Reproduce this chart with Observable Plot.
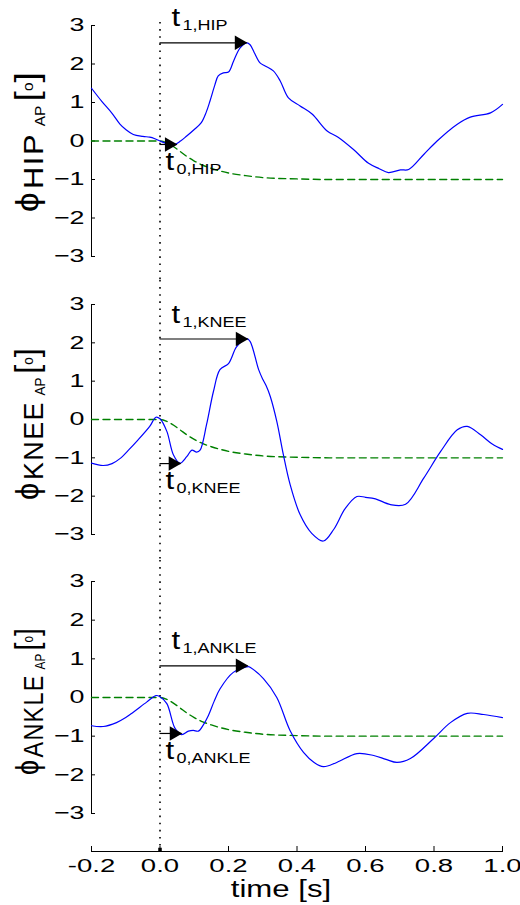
<!DOCTYPE html>
<html><head><meta charset="utf-8">
<script src="https://cdn.jsdelivr.net/npm/d3@7"></script>
<script src="https://cdn.jsdelivr.net/npm/@observablehq/plot@0.6"></script>
<style>
body{margin:0;background:#fff;width:520px;height:905px;overflow:hidden}
#chart svg{display:block}
</style></head><body><div id="chart"></div>
<script>
// ---------- data ----------
const xTicks = [-0.2, 0.0, 0.2, 0.4, 0.6, 0.8, 1.0];
const yTicks = [-3, -2, -1, 0, 1, 2, 3];
const joints = ["HIP", "KNEE", "ANKLE"];

const hipT = [-0.2,-0.17,-0.14,-0.117,-0.1,-0.078,-0.05,-0.03,-0.015,0,0.02,0.04,0.06,0.078,0.1,0.12,0.135,0.146,0.16,0.17,0.185,0.2,0.215,0.234,0.254,0.263,0.275,0.292,0.307,0.331,0.351,0.375,0.409,0.444,0.488,0.52,0.565,0.609,0.64,0.667,0.702,0.726,0.77,0.809,0.867,0.906,0.965,1.0];
const hipV = [1.37,1.03,0.72,0.44,0.3,0.17,0.12,0.1,0.06,0.0,-0.07,-0.1,0.0,0.13,0.3,0.47,0.75,1.04,1.45,1.69,1.77,1.79,2.08,2.42,2.55,2.5,2.3,2.03,1.95,1.82,1.56,1.12,0.91,0.7,0.26,0.1,-0.22,-0.58,-0.72,-0.82,-0.75,-0.74,-0.35,0.0,0.43,0.62,0.73,0.95];

const kneeT = [-0.2,-0.166,-0.14,-0.117,-0.09,-0.068,-0.03,-0.012,0,0.02,0.039,0.058,0.078,0.093,0.107,0.117,0.136,0.156,0.175,0.2,0.224,0.253,0.263,0.288,0.3,0.31,0.322,0.341,0.36,0.38,0.409,0.443,0.477,0.507,0.541,0.575,0.6,0.629,0.673,0.717,0.77,0.819,0.868,0.897,0.936,0.97,1.0];
const kneeV = [-1.14,-1.2,-1.15,-1.02,-0.78,-0.57,-0.18,0.06,0.02,-0.31,-0.92,-1.14,-0.97,-0.8,-0.85,-0.8,-0.13,0.73,1.3,1.46,1.9,2.11,2.04,1.3,1.05,0.88,0.6,-0.05,-0.91,-1.7,-2.48,-2.97,-3.17,-2.87,-2.32,-2.01,-2.03,-2.07,-2.22,-2.21,-1.53,-0.84,-0.27,-0.18,-0.4,-0.64,-0.78];

const ankleT = [-0.2,-0.166,-0.127,-0.1,-0.078,-0.039,-0.012,0,0.02,0.044,0.063,0.083,0.097,0.112,0.127,0.141,0.158,0.175,0.214,0.258,0.263,0.302,0.341,0.38,0.419,0.45,0.477,0.516,0.575,0.624,0.66,0.692,0.731,0.799,0.848,0.897,0.945,1.0];
const ankleV = [-0.73,-0.75,-0.65,-0.52,-0.38,-0.12,0.05,0.02,-0.16,-0.8,-0.96,-0.87,-0.85,-0.87,-0.7,-0.47,-0.1,0.22,0.65,0.8,0.78,0.49,0.0,-0.86,-1.42,-1.68,-1.79,-1.68,-1.45,-1.5,-1.6,-1.68,-1.58,-1.06,-0.65,-0.41,-0.44,-0.52];

const refT = [-0.2,0,0.02,0.04,0.06,0.08,0.1,0.125,0.15,0.2,0.25,0.3,0.4,0.5,1.0];
const refV = [0,0,-0.05,-0.15,-0.28,-0.41,-0.52,-0.63,-0.71,-0.83,-0.9,-0.95,-0.985,-1,-1];

const t0Time = [0.05, 0.061, 0.064];
const t0Value = [-0.09, -1.15, -0.93];
const t1Time = [0.254, 0.257, 0.257];
const t1Value = [2.55, 2.1, 0.82];

const seriesT = [hipT, kneeT, ankleT];
const seriesV = [hipV, kneeV, ankleV];

// ---------- layout ----------
const FONT = "'Liberation Sans', Arial, Helvetica, sans-serif";
const layout = [
  {height: 280, top: 22, bottom: 0, range: [256, 25], labelStart: 212, labelLen: 140, xAxis: false},
  {height: 280, top: 0, bottom: 0, range: [254, 24], labelStart: 220, labelLen: 152, xAxis: false},
  {height: 345, top: 0, bottom: 54, range: [253, 21], labelStart: 215, labelLen: 147, xAxis: true}
];

// widen horizontal text about its own anchor (append to Plot's translate)
function stretch(sel, s) {
  sel.each(function () {
    const tr = this.getAttribute("transform") || "";
    this.setAttribute("transform", `${tr} scale(${s},1)`);
  });
}

const root = document.getElementById("chart");

joints.forEach((joint, i) => {
  const L = layout[i];
  const blue = seriesT[i].map((t, j) => ({t, v: seriesV[i][j]}));
  const green = refT.map((t, j) => ({t, v: refV[j]}));
  const a1 = [{t: t1Time[i], v: t1Value[i]}];
  const a0 = [{t: t0Time[i], v: t0Value[i]}];

  const marks = [
    Plot.ruleX([0], {stroke: "black", strokeWidth: 1.6, strokeDasharray: "1.6,5.5"}),
    Plot.ruleX([xTicks[0]], {y1: () => d3.min(yTicks), y2: () => d3.max(yTicks), stroke: "black", strokeWidth: 1}),
    Plot.axisY(yTicks, {anchor: "left", label: null, tickSize: -4, tickPadding: 11, fontSize: 18.5,
      tickFormat: d => d < 0 ? "\u2212" + (-d) : String(d)}),
    Plot.line(green, {x: "t", y: "v", stroke: "#008000", strokeWidth: 1.4, strokeDasharray: "7,4.5", curve: "monotone-x"}),
    Plot.line(blue, {x: "t", y: "v", stroke: "#0000ff", strokeWidth: 1.2, curve: "catmull-rom"}),
    Plot.ruleY(a1, {x1: () => 0, x2: "t", y: "v", stroke: "black", strokeWidth: 1.2}),
    Plot.dot(a1, {x: "t", y: "v", symbol: "triangle", rotate: 90, r: 5.4, fill: "black", stroke: null, dx: -8}),
    Plot.ruleY(a0, {x1: () => 0, x2: "t", y: "v", stroke: "black", strokeWidth: 1.2}),
    Plot.dot(a0, {x: "t", y: "v", symbol: "triangle", rotate: 90, r: 5.4, fill: "black", stroke: null, dx: -8})
  ];
  if (L.xAxis) {
    marks.push(
      Plot.frame({anchor: "bottom", stroke: "black"}),
      Plot.axisX(xTicks, {anchor: "bottom", label: null, tickSize: -5, tickPadding: 12, fontSize: 19,
        tickFormat: d => d.toFixed(1)}),
      Plot.dot([0], {x: d => d, frameAnchor: "bottom", symbol: "square", r: 2, fill: "black", stroke: null, dy: -2})
    );
  }

  const svg = Plot.plot({
    width: 520, height: L.height,
    marginLeft: 91, marginRight: 18, marginTop: L.top, marginBottom: L.bottom,
    style: {fontFamily: FONT, color: "black", background: "white", overflow: "visible"},
    x: {domain: [xTicks[0], xTicks[xTicks.length - 1]], axis: L.xAxis ? undefined : null, label: null},
    y: {domain: [d3.min(yTicks), d3.max(yTicks)], range: L.range, label: null},
    marks
  });
  root.appendChild(svg);

  const sx = svg.scale("x"), sy = svg.scale("y");
  const svgSel = d3.select(svg);
  stretch(svgSel.selectAll('g[aria-label="y-axis tick label"] text'), 1.45);
  stretch(svgSel.selectAll('g[aria-label="x-axis tick label"] text'), 1.45);

  const g = svgSel.append("g").attr("font-family", FONT).attr("fill", "black").attr("text-anchor", "start");

  // t labels
  function tlabel(x, y, sub) {
    const t = g.append("text").attr("text-anchor", "start").attr("transform", `translate(${x},${y}) scale(1.2,1)`);
    t.append("tspan").attr("font-size", 26).text("t");
    t.append("tspan").attr("font-size", 15).attr("dx", 2).attr("dy", 4).text(sub);
  }
  tlabel(sx.apply(0) + 12, sy.apply(t1Value[i]) - 16, "1," + joint);
  tlabel(sx.apply(0) + 6, sy.apply(t0Value[i]) + 26, "0," + joint);

  // y label (rotated), fitted along its length
  const lab = g.append("text").attr("text-anchor", "start");
  lab.append("tspan").attr("font-size", 32).attr("dy", -5).text("\u03D5");
  lab.append("tspan").attr("font-size", 28).attr("dx", 3).attr("dy", 5).attr("letter-spacing", 1.5).text(joint);
  lab.append("tspan").attr("font-size", 14).attr("dx", 6).attr("dy", 2).text("AP");
  lab.append("tspan").attr("font-size", 34).attr("dx", 4).attr("dy", -7).text("[");
  lab.append("tspan").attr("font-size", 14).attr("dy", -5.5).text("o");
  lab.append("tspan").attr("font-size", 34).attr("dy", 5.5).text("]");
  const w = lab.node().getBBox().width || L.labelLen;
  lab.attr("transform", `translate(43,${L.labelStart}) rotate(-90) scale(${L.labelLen / w},1)`);

  if (L.xAxis) {
    g.append("text").attr("transform", `translate(281,337) scale(1.3,1)`)
      .attr("text-anchor", "middle").attr("font-size", 24).text("time [s]");
  }
});
</script>
</body></html>
